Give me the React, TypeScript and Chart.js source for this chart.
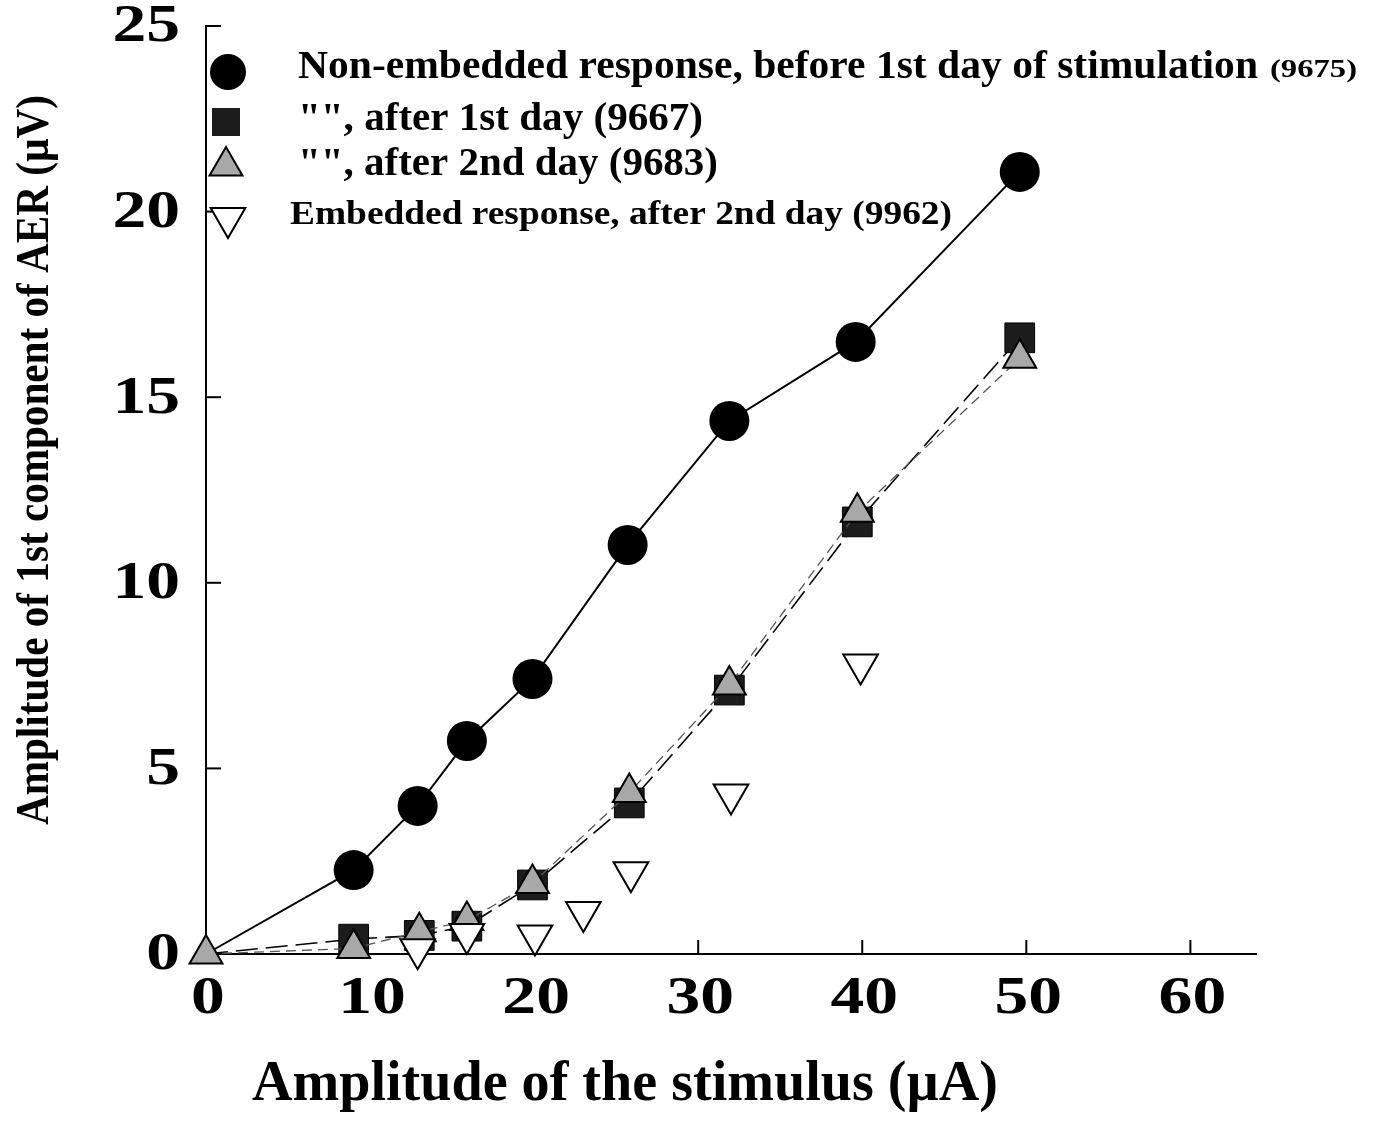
import React, { useEffect, useRef } from "react";
import { Chart, registerables } from "chart.js";

Chart.register(...registerables);

// ---- data ----
const circleX = [0, 9, 12.9, 15.9, 19.9, 25.7, 31.9, 39.6, 49.6];
const circleY = [0, 2.26, 3.99, 5.74, 7.41, 11.02, 14.36, 16.49, 21.07];

const squareX = [0, 9, 13, 15.9, 19.9, 25.8, 31.9, 39.7, 49.6];
const squareY = [0, 0.4, 0.5, 0.75, 1.86, 4.07, 7.11, 11.64, 16.6];

const triX = [0, 9, 13, 15.9, 19.9, 25.8, 31.9, 39.7, 49.6];
const triY = [0, 0.15, 0.6, 0.9, 1.9, 4.35, 7.25, 11.9, 16.05];

const embX = [12.9, 15.9, 20.05, 23.0, 25.9, 32.0, 39.9];
const embY = [0.13, 0.54, 0.5, 1.13, 2.2, 4.3, 7.8];

const xTickValues = [0, 10, 20, 30, 40, 50, 60];
const yTickValues = [0, 5, 10, 15, 20, 25];
const xInnerTicks = [30, 40, 50, 60];
const yInnerTicks = [5, 10, 15, 20, 25];

const legendLabels = [
  "Non-embedded response, before 1st day of stimulation",
  "\"\", after 1st day (9667)",
  "\"\", after 2nd day (9683)",
  "Embedded response, after 2nd day (9962)",
];
const legendSuffix = "(9675)";
const xTitle = "Amplitude of the stimulus (\u00b5A)";
const yTitle = "Amplitude of 1st component of AER (\u00b5V)";

const SERIF = "'Liberation Serif', 'Times New Roman', serif";

const pts = (xs: number[], ys: number[]) => xs.map((x, i) => ({ x, y: ys[i] }));

function fitText(
  ctx: CanvasRenderingContext2D,
  text: string,
  x: number,
  y: number,
  w: number,
  font: string,
  align: CanvasTextAlign = "left"
) {
  ctx.save();
  ctx.font = font;
  const m = ctx.measureText(text).width;
  const s = w / m;
  ctx.translate(x, y);
  ctx.scale(s, 1);
  ctx.textAlign = align;
  ctx.textBaseline = "middle";
  ctx.fillStyle = "#000";
  ctx.fillText(text, 0, 0);
  ctx.restore();
}

function stretchText(
  ctx: CanvasRenderingContext2D,
  text: string,
  x: number,
  y: number,
  sx: number,
  font: string,
  align: CanvasTextAlign
) {
  ctx.save();
  ctx.font = font;
  ctx.translate(x, y);
  ctx.scale(sx, 1);
  ctx.textAlign = align;
  ctx.textBaseline = "middle";
  ctx.fillStyle = "#000";
  ctx.fillText(text, 0, 0);
  ctx.restore();
}

function triPath(ctx: CanvasRenderingContext2D, cx: number, cy: number, r: number, down: boolean) {
  const d = down ? -1 : 1;
  ctx.beginPath();
  ctx.moveTo(cx, cy - d * r);
  ctx.lineTo(cx + r * Math.sin((2 * Math.PI) / 3), cy + d * r * 0.5);
  ctx.lineTo(cx - r * Math.sin((2 * Math.PI) / 3), cy + d * r * 0.5);
  ctx.closePath();
}

const decorPlugin = {
  id: "decor",
  beforeDatasetsDraw(chart: any) {
    const ctx: CanvasRenderingContext2D = chart.ctx;
    const xs = chart.scales.x;
    const ys = chart.scales.y;
    const area = chart.chartArea;
    ctx.save();
    ctx.strokeStyle = "#000";
    ctx.lineWidth = 2;
    for (const v of yInnerTicks) {
      const py = ys.getPixelForValue(v);
      ctx.beginPath();
      ctx.moveTo(area.left, py);
      ctx.lineTo(area.left + 15, py);
      ctx.stroke();
    }
    for (const v of xInnerTicks) {
      const px = xs.getPixelForValue(v);
      ctx.beginPath();
      ctx.moveTo(px, area.bottom);
      ctx.lineTo(px, area.bottom - 14);
      ctx.stroke();
    }
    ctx.restore();
  },
  afterDraw(chart: any) {
    const ctx: CanvasRenderingContext2D = chart.ctx;
    const xs = chart.scales.x;
    const ys = chart.scales.y;
    const area = chart.chartArea;
    const tickFont = `bold 52px ${SERIF}`;
    for (const v of yTickValues) {
      stretchText(ctx, String(v), area.left - 26, ys.getPixelForValue(v) + 2, 1.3, tickFont, "right");
    }
    for (const v of xTickValues) {
      stretchText(ctx, String(v), xs.getPixelForValue(v) + 2, area.bottom + 46, 1.3, tickFont, "center");
    }
    // axis titles
    fitText(ctx, xTitle, 252, 1086, 746, `bold 56px ${SERIF}`, "left");
    ctx.save();
    ctx.translate(36, 825);
    ctx.rotate(-Math.PI / 2);
    fitText(ctx, yTitle, 0, 0, 730, `bold 46px ${SERIF}`, "left");
    ctx.restore();

    // legend
    ctx.save();
    ctx.lineWidth = 2;
    ctx.strokeStyle = "#000";
    ctx.fillStyle = "#000";
    ctx.beginPath();
    ctx.arc(228, 72, 18, 0, Math.PI * 2);
    ctx.fill();
    ctx.fillStyle = "#1c1c1c";
    ctx.fillRect(212, 108, 28, 28);
    ctx.fillStyle = "#a8a8a8";
    triPath(ctx, 226, 166, 19, false);
    ctx.fill();
    ctx.stroke();
    ctx.fillStyle = "#fff";
    triPath(ctx, 228, 218, 20, true);
    ctx.fill();
    ctx.stroke();
    ctx.restore();

    fitText(ctx, legendLabels[0], 298, 68, 960, `bold 40px ${SERIF}`);
    fitText(ctx, legendSuffix, 1270, 70, 87, `bold 26px ${SERIF}`);
    fitText(ctx, legendLabels[1], 298, 120, 405, `bold 40px ${SERIF}`);
    fitText(ctx, legendLabels[2], 298, 165, 420, `bold 40px ${SERIF}`);
    fitText(ctx, legendLabels[3], 290, 215, 662, `bold 34px ${SERIF}`);
  },
};

export default function App() {
  const ref = useRef<HTMLCanvasElement | null>(null);
  useEffect(() => {
    if (!ref.current) return;
    const chart = new Chart(ref.current, {
      type: "line",
      data: {
        datasets: [
          {
            label: legendLabels[3],
            data: pts(embX, embY),
            showLine: false,
            pointStyle: "triangle",
            rotation: 180,
            pointRadius: 20,
            pointBackgroundColor: "#fff",
            pointBorderColor: "#000",
            pointBorderWidth: 2,
            clip: false,
          } as any,
          {
            label: legendLabels[2],
            data: pts(triX, triY),
            borderColor: "#555",
            borderWidth: 1.3,
            borderDash: [10, 6],
            pointStyle: "triangle",
            pointRadius: 19,
            pointBackgroundColor: "#a8a8a8",
            pointBorderColor: "#000",
            pointBorderWidth: 2,
            clip: false,
          } as any,
          {
            label: legendLabels[1],
            data: pts(squareX, squareY),
            borderColor: "#000",
            borderWidth: 1.6,
            borderDash: [22, 8],
            pointStyle: "rect",
            pointRadius: squareX.map((x) => (x === 0 ? 0 : 21)),
            pointBackgroundColor: "#1c1c1c",
            pointBorderColor: "#000",
            pointBorderWidth: 1,
            clip: false,
          } as any,
          {
            label: legendLabels[0],
            data: pts(circleX, circleY),
            borderColor: "#000",
            borderWidth: 2,
            pointStyle: "circle",
            pointRadius: circleX.map((x) => (x === 0 ? 0 : 20)),
            pointBackgroundColor: "#000",
            pointBorderColor: "#000",
            pointBorderWidth: 0,
            clip: false,
          } as any,
        ],
      },
      options: {
        animation: false,
        responsive: true,
        maintainAspectRatio: false,
        layout: { padding: { left: 0, right: 120, top: 26, bottom: 0 } },
        plugins: { legend: { display: false }, tooltip: { enabled: false } },
        elements: { line: { tension: 0 } },
        scales: {
          x: {
            type: "linear",
            min: 0,
            max: 64,
            grid: { display: false },
            border: { display: true, color: "#000", width: 2 },
            ticks: { display: false, stepSize: 10, includeBounds: false },
            afterFit: (s: any) => {
              s.height = 170;
            },
          },
          y: {
            type: "linear",
            min: 0,
            max: 25,
            grid: { display: false },
            border: { display: true, color: "#000", width: 2 },
            ticks: { display: false, stepSize: 5 },
            afterFit: (s: any) => {
              s.width = 206;
            },
          },
        },
      } as any,
      plugins: [decorPlugin],
    });
    return () => chart.destroy();
  }, []);
  return (
    <div style={{ position: "absolute", left: 0, top: 0, width: 1376, height: 1124, background: "#fff" }}>
      <canvas ref={ref} />
    </div>
  );
}
